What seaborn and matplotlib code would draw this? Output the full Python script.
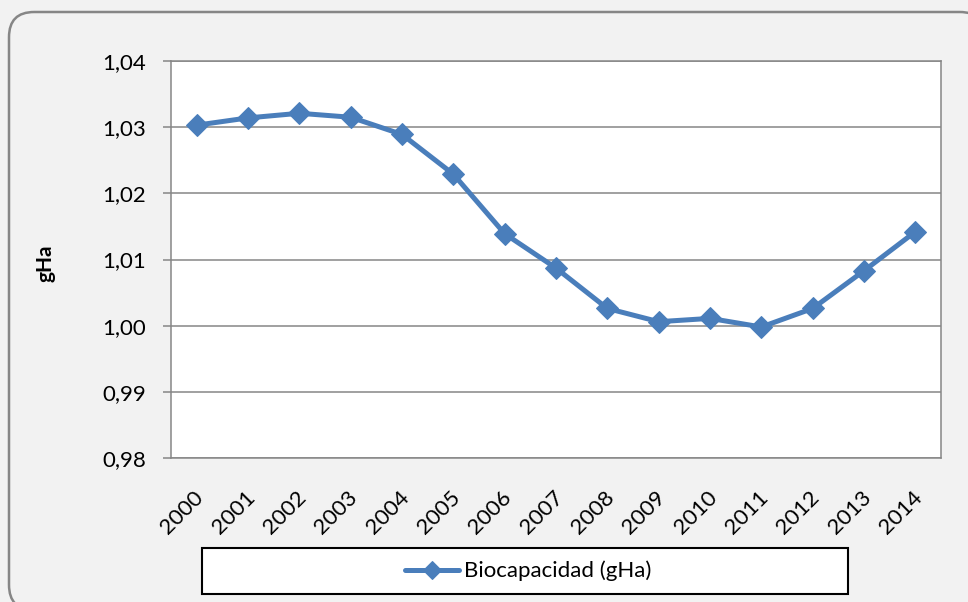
import numpy as np
import pandas as pd
import seaborn as sns
import matplotlib.pyplot as plt
from matplotlib.patches import FancyBboxPatch, Rectangle
from matplotlib.ticker import FuncFormatter, MultipleLocator
import matplotlib.transforms as mtransforms

# data
years = ['2000', '2001', '2002', '2003', '2004', '2005', '2006', '2007',
         '2008', '2009', '2010', '2011', '2012', '2013', '2014']
biocap = [1.0303, 1.0314, 1.0321, 1.0315, 1.0289, 1.0229, 1.0139, 1.0087,
          1.0026, 1.0006, 1.0011, 0.9998, 1.0026, 1.0083, 1.0142]
series_name = 'Biocapacidad (gHa)'
y_label = 'gHa'

df = pd.DataFrame({'year': years, 'value': biocap})

sns.set_style('white')
plt.rcParams['font.family'] = ['Lato', 'DejaVu Sans']
plt.rcParams['text.color'] = 'black'
plt.rcParams['xtick.color'] = 'black'
plt.rcParams['ytick.color'] = 'black'

bg = '#F2F2F2'
grey = '#868686'
blue = '#4A7EBB'
fs = 16

fig = plt.figure(figsize=(9.68, 6.02), dpi=100, facecolor=bg)

# outer rounded frame (runs off the right and bottom edges like the original)
frame = FancyBboxPatch((9 / 968, 1 - 610 / 602), 976 / 968, 598 / 602,
                       boxstyle='round,pad=0,rounding_size=0.026',
                       transform=fig.transFigure, facecolor=bg,
                       edgecolor=grey, linewidth=1.8, zorder=-5,
                       mutation_aspect=968 / 602)
fig.patches.append(frame)

# legend box
lbox = Rectangle((202 / 968, 1 - 594 / 602), 646 / 968, 46 / 602,
                 transform=fig.transFigure, facecolor='white',
                 edgecolor='black', linewidth=1.5, zorder=-4)
fig.patches.append(lbox)

ax = fig.add_axes([171 / 968, 1 - 458 / 602, 770 / 968, 397 / 602])
ax.set_facecolor('white')

sns.lineplot(data=df, x='year', y='value', ax=ax, color=blue, linewidth=3.6,
             marker='D', markersize=11.5, markeredgecolor=blue, sort=False,
             label=series_name)

ax.set_xlim(-0.5, len(years) - 0.5)
ax.set_ylim(0.98, 1.04)
ax.yaxis.set_major_locator(MultipleLocator(0.01))
ax.yaxis.set_major_formatter(FuncFormatter(lambda v, p: f'{v:.2f}'.replace('.', ',')))
ax.grid(axis='y', color=grey, linewidth=1.1)
ax.set_axisbelow(True)

for s in ax.spines.values():
    s.set_color(grey)
    s.set_linewidth(1.1)
    s.set_visible(True)

ax.set_xticks(np.arange(-0.5, len(years), 1.0), minor=True)
ax.tick_params(axis='x', which='minor', length=6, color=grey, width=1.1, direction='out')
ax.tick_params(axis='x', which='major', length=0, labelsize=fs, pad=26)
ax.tick_params(axis='y', which='major', length=6, color=grey, width=1.1,
               direction='out', labelsize=fs, pad=12, left=True)

offset = mtransforms.ScaledTranslation(4 / 100, 0, fig.dpi_scale_trans)
for lab in ax.get_xticklabels():
    lab.set_rotation(45)
    lab.set_ha('right')
    lab.set_va('center')
    lab.set_rotation_mode('anchor')
    lab.set_transform(lab.get_transform() + offset)

ax.set_xlabel('')
ax.set_ylabel('')
fig.text(46 / 968, 1 - 263 / 602, y_label, rotation=90, fontsize=15,
         fontweight='bold', ha='center', va='center')

handles, labels = ax.get_legend_handles_labels()
ax.get_legend().remove()
leg = fig.legend(handles, labels, loc='center',
                 bbox_to_anchor=(528 / 968, 1 - 571 / 602),
                 bbox_transform=fig.transFigure, frameon=False,
                 fontsize=fs, handlelength=2.45, handletextpad=0.22)
for h in leg.legend_handles:
    h.set_markersize(9)

fig.savefig('out.png', dpi=100, facecolor=bg)
